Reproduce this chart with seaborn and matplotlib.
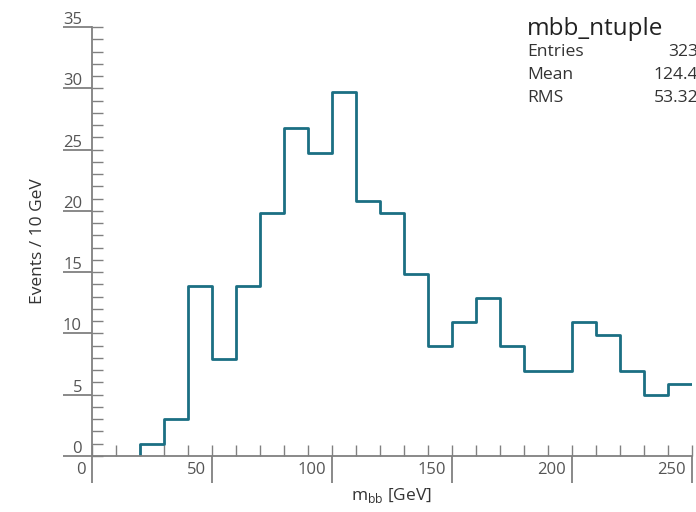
import matplotlib
matplotlib.use("Agg")
import matplotlib.pyplot as plt
from matplotlib.ticker import MultipleLocator
from matplotlib.transforms import ScaledTranslation
import seaborn as sns

# m_bb histogram, 10 GeV bins (visible range only), heights
bin_edges = [20, 30, 40, 50, 60, 70, 80, 90, 100, 110, 120, 130, 140, 150,
             160, 170, 180, 190, 200, 210, 220, 230, 240, 250]
counts = [1.0, 3.0, 13.9, 7.95, 13.9, 19.8, 26.75, 24.75, 29.7, 20.8, 19.8,
          14.85, 8.95, 10.9, 12.85, 8.95, 6.9, 6.9, 10.9, 9.9, 6.9, 4.95, 5.9]
stats_title = "mbb_ntuple"
stats_names = ["Entries", "Mean", "RMS"]
stats_values = ["323", "124.4", "53.32"]

sns.set_theme(style="white")
plt.rcParams["font.family"] = ["Open Sans", "DejaVu Sans"]

DPI = 100
W, H = 696, 512
line_col = "#1b6f83"
axis_col = "#808080"
text_col = "#555555"

fig = plt.figure(figsize=(W / DPI, H / DPI), dpi=DPI)
ax = fig.add_axes([92 / W, 56 / H, (691.7 - 92) / W, (456 - 27) / H])

centers = [(a + b) / 2 for a, b in zip(bin_edges[:-1], bin_edges[1:])]
sns.histplot(x=centers, weights=counts, bins=bin_edges, element="step",
             fill=False, color=line_col, linewidth=2.0, ax=ax)
# rising edge of the first filled bin
ax.vlines(bin_edges[0], 0, counts[0], color=line_col, linewidth=2.0)

ax.set_xlim(0, 250)
ax.set_ylim(0, 35)

for s in ["top", "right"]:
    ax.spines[s].set_visible(False)
for s in ["left", "bottom"]:
    ax.spines[s].set_color(axis_col)
    ax.spines[s].set_linewidth(1.3)

px = 72 / DPI  # points per pixel
ax.xaxis.set_major_locator(MultipleLocator(50))
ax.xaxis.set_minor_locator(MultipleLocator(10))
ax.yaxis.set_major_locator(MultipleLocator(5))
ax.yaxis.set_minor_locator(MultipleLocator(1))
ax.xaxis.remove_overlapping_locs = False
ax.yaxis.remove_overlapping_locs = False

ax.tick_params(axis="x", which="major", direction="out", length=27 * px,
               width=1.3, color=axis_col, pad=-21 * px, labelsize=12,
               labelcolor=text_col, bottom=True)
ax.tick_params(axis="x", which="minor", direction="in", length=11 * px,
               width=1.0, color=axis_col, bottom=True)
ax.tick_params(axis="y", which="major", direction="out", length=29 * px,
               width=1.3, color=axis_col, pad=-19 * px, labelsize=12,
               labelcolor=text_col, left=True)
ax.tick_params(axis="y", which="minor", direction="in", length=11 * px,
               width=1.0, color=axis_col, left=True)

ax.set_xticks([0, 50, 100, 150, 200, 250])
ax.set_yticks([0, 5, 10, 15, 20, 25, 30, 35])
for t in ax.xaxis.get_major_ticks():
    t.label1.set_ha("right")
    t.label1.set_transform(t.label1.get_transform()
                           + ScaledTranslation(-6 / DPI, 0, fig.dpi_scale_trans))
for t in ax.yaxis.get_major_ticks():
    t.label1.set_va("baseline")
    t.label1.set_transform(t.label1.get_transform()
                           + ScaledTranslation(0, 3 / DPI, fig.dpi_scale_trans))

ax.set_xlabel("m$_{\\mathregular{bb}}$ [GeV]", fontsize=12.5, color="#333333")
ax.set_ylabel("Events / 10 GeV", fontsize=12.5, color="#333333")
ax.xaxis.set_label_coords(0.5, -0.07)
ax.yaxis.set_label_coords(-0.077, 0.5)

# stats box (cut off at the right edge as in the original)
fig.text(527 / W, 1 - 29 / H, stats_title, fontsize=17.5, color="#222222",
         ha="left", va="center")
for i, (name, val) in enumerate(zip(stats_names, stats_values)):
    y = 1 - (52 + 23 * i) / H
    fig.text(527 / W, y, name, fontsize=12.6, color="#333333", ha="left", va="center")
    fig.text(698 / W, y, val, fontsize=12.6, color="#333333", ha="right", va="center")

fig.savefig("out.png", dpi=DPI)
